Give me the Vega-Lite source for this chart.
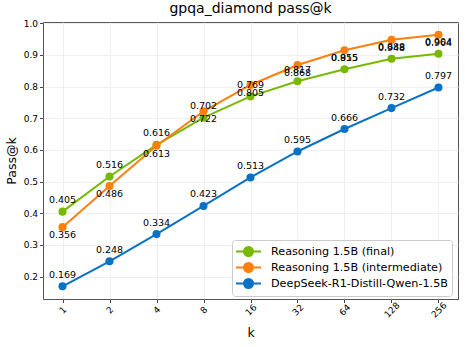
{
  "$schema": "https://vega.github.io/schema/vega-lite/v6.json",
  "width": 415,
  "height": 277,
  "autosize": {"type": "none"},
  "padding": {"left": 43, "top": 22, "right": 7, "bottom": 48},
  "title": {"text": "gpqa_diamond pass@k", "fontSize": 14, "font": "DejaVu Sans", "fontWeight": "normal", "color": "#000", "offset": 3},
  "config": {
    "font": "DejaVu Sans",
    "view": {"stroke": "#555", "strokeWidth": 1},
    "axis": {"gridColor": "#ebebeb", "gridWidth": 0.8, "domain": false, "tickColor": "#444", "tickSize": 3.5, "labelColor": "#000", "titleColor": "#000", "titleFontWeight": "normal", "labelFont": "DejaVu Sans", "titleFont": "DejaVu Sans"}
  },
  "data": {"values": [
    {"k": "1", "model": "Reasoning 1.5B (final)", "value": 0.405},
    {"k": "2", "model": "Reasoning 1.5B (final)", "value": 0.516},
    {"k": "4", "model": "Reasoning 1.5B (final)", "value": 0.616},
    {"k": "8", "model": "Reasoning 1.5B (final)", "value": 0.702},
    {"k": "16", "model": "Reasoning 1.5B (final)", "value": 0.769},
    {"k": "32", "model": "Reasoning 1.5B (final)", "value": 0.817},
    {"k": "64", "model": "Reasoning 1.5B (final)", "value": 0.855},
    {"k": "128", "model": "Reasoning 1.5B (final)", "value": 0.888},
    {"k": "256", "model": "Reasoning 1.5B (final)", "value": 0.904},
    {"k": "1", "model": "Reasoning 1.5B (intermediate)", "value": 0.356},
    {"k": "2", "model": "Reasoning 1.5B (intermediate)", "value": 0.486},
    {"k": "4", "model": "Reasoning 1.5B (intermediate)", "value": 0.613},
    {"k": "8", "model": "Reasoning 1.5B (intermediate)", "value": 0.722},
    {"k": "16", "model": "Reasoning 1.5B (intermediate)", "value": 0.805},
    {"k": "32", "model": "Reasoning 1.5B (intermediate)", "value": 0.868},
    {"k": "64", "model": "Reasoning 1.5B (intermediate)", "value": 0.915},
    {"k": "128", "model": "Reasoning 1.5B (intermediate)", "value": 0.948},
    {"k": "256", "model": "Reasoning 1.5B (intermediate)", "value": 0.964},
    {"k": "1", "model": "DeepSeek-R1-Distill-Qwen-1.5B", "value": 0.169},
    {"k": "2", "model": "DeepSeek-R1-Distill-Qwen-1.5B", "value": 0.248},
    {"k": "4", "model": "DeepSeek-R1-Distill-Qwen-1.5B", "value": 0.334},
    {"k": "8", "model": "DeepSeek-R1-Distill-Qwen-1.5B", "value": 0.423},
    {"k": "16", "model": "DeepSeek-R1-Distill-Qwen-1.5B", "value": 0.513},
    {"k": "32", "model": "DeepSeek-R1-Distill-Qwen-1.5B", "value": 0.595},
    {"k": "64", "model": "DeepSeek-R1-Distill-Qwen-1.5B", "value": 0.666},
    {"k": "128", "model": "DeepSeek-R1-Distill-Qwen-1.5B", "value": 0.732},
    {"k": "256", "model": "DeepSeek-R1-Distill-Qwen-1.5B", "value": 0.797}
  ]},
  "encoding": {
    "x": {"field": "k", "type": "ordinal", "sort": ["1", "2", "4", "8", "16", "32", "64", "128", "256"],
          "scale": {"type": "point", "padding": 0.415},
          "axis": {"title": "k", "titleFontSize": 12.5, "labelFontSize": 9, "labelAngle": -45, "labelAlign": "center", "labelBaseline": "middle", "labelPadding": 7, "titlePadding": 7, "grid": true}},
    "y": {"field": "value", "type": "quantitative",
          "scale": {"domain": [0.129, 1.004], "nice": false, "zero": false},
          "axis": {"title": "Pass@k", "titleFontSize": 12.5, "labelFontSize": 9, "values": [0.2, 0.3, 0.4, 0.5, 0.6, 0.7, 0.8, 0.9, 1.0], "format": ".1f", "grid": true, "titlePadding": 5}},
    "color": {"field": "model", "type": "nominal",
              "scale": {"domain": ["Reasoning 1.5B (final)", "Reasoning 1.5B (intermediate)", "DeepSeek-R1-Distill-Qwen-1.5B"], "range": ["#76b900", "#ff7f0e", "#0a72c4"]}}
  },
  "layer": [
    {"mark": {"type": "line", "strokeWidth": 2},
     "encoding": {"color": {"field": "model", "type": "nominal",
       "legend": {"title": null, "orient": "none", "legendX": 189, "legendY": 218,
                  "fillColor": "#fff", "strokeColor": "#cccccc", "cornerRadius": 3, "padding": 4,
                  "labelFontSize": 11.2, "labelFont": "DejaVu Sans", "labelColor": "#000", "labelOffset": 15, "labelLimit": 300, "rowPadding": -3.5,
                  "symbolType": "M-2,0L2,0M0.72,0A0.72,0.72,0,1,1,-0.72,0A0.72,0.72,0,1,1,0.72,0Z",
                  "symbolSize": 156, "symbolStrokeWidth": 2, "symbolOffset": 5,
                  "encode": {"symbols": {"update": {"fill": {"scale": "color", "field": "value"}, "stroke": {"scale": "color", "field": "value"}, "opacity": {"value": 1}}}}}}}},
    {"mark": {"type": "point", "filled": true, "size": 65, "opacity": 1}},
    {"transform": [{"filter": "datum.model != 'Reasoning 1.5B (intermediate)'"}],
     "mark": {"type": "text", "dy": -8.5, "baseline": "alphabetic", "fontSize": 9.5, "color": "#000"},
     "encoding": {"text": {"field": "value", "type": "quantitative", "format": ".3f"}, "color": {"value": "#000"}}},
    {"transform": [{"filter": "datum.model == 'Reasoning 1.5B (intermediate)'"}],
     "mark": {"type": "text", "dy": 11, "baseline": "alphabetic", "fontSize": 9.5, "color": "#000"},
     "encoding": {"text": {"field": "value", "type": "quantitative", "format": ".3f"}, "color": {"value": "#000"}}}
  ]
}
